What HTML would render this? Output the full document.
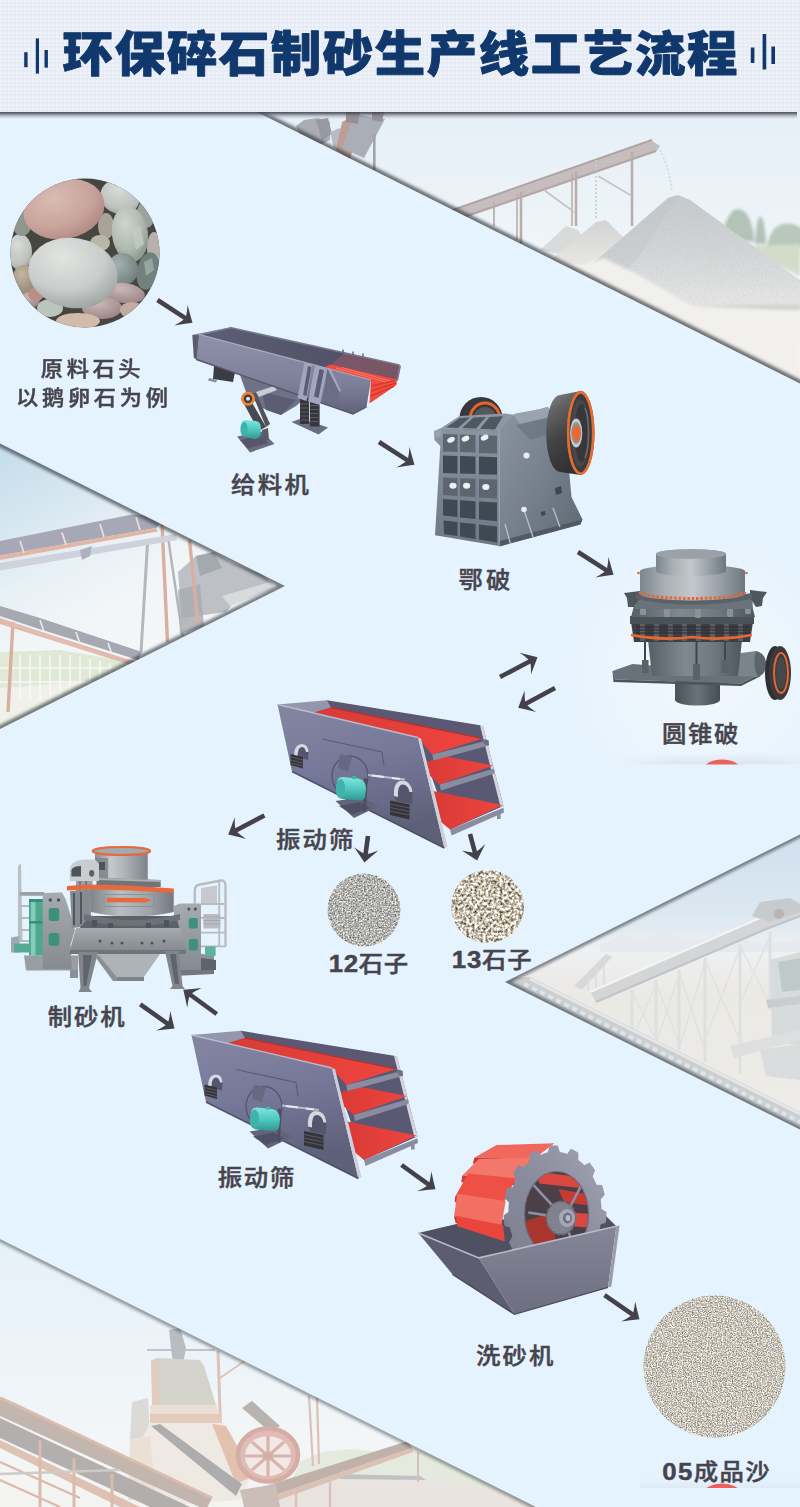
<!DOCTYPE html>
<html lang="zh-CN">
<head>
<meta charset="utf-8">
<title>环保碎石制砂生产线工艺流程</title>
<style>
html,body{margin:0;padding:0;}
body{width:800px;height:1507px;overflow:hidden;background:#e5f3fe;position:relative;font-family:"Liberation Sans","Noto Sans CJK SC",sans-serif;}
#stage{position:absolute;left:0;top:0;width:800px;height:1507px;display:block;}
.lbl{font-family:"Liberation Sans","Noto Sans CJK SC",sans-serif;font-weight:500;font-size:24px;fill:#46444d;letter-spacing:0.6px;stroke:#46444d;stroke-width:0.45px;}
.ttl{font-family:"Liberation Sans","Noto Sans CJK SC",sans-serif;font-weight:900;font-size:48px;fill:#11386c;letter-spacing:3.7px;}
</style>
</head>
<body>
<svg id="stage" width="800" height="1507" viewBox="0 0 800 1507">
<defs>
  <linearGradient id="hdrShadow" x1="0" y1="0" x2="0" y2="1">
    <stop offset="0" stop-color="#30323a" stop-opacity="0.95"/>
    <stop offset="0.3" stop-color="#4c4f5a" stop-opacity="0.8"/>
    <stop offset="0.65" stop-color="#767c8c" stop-opacity="0.38"/>
    <stop offset="1" stop-color="#8a90a0" stop-opacity="0"/>
  </linearGradient>
  <pattern id="hdrTex" width="4" height="4" patternUnits="userSpaceOnUse">
    <rect width="4" height="4" fill="#e9eef6"/>
    <rect x="0" y="0" width="2" height="2" fill="#eff3f9"/>
    <rect x="2" y="2" width="2" height="2" fill="#e4eaf3"/>
  </pattern>
  <clipPath id="clipT1"><polygon points="255,111 800,111 800,383.500"/></clipPath>
  <clipPath id="clipT2"><polygon points="0,443.500 285,586 0,729"/></clipPath>
  <clipPath id="clipT3"><polygon points="800,834.500 505,982 800,1129.500"/></clipPath>
  <clipPath id="clipT4"><polygon points="0,1239 536,1507 0,1507"/></clipPath>
  <filter id="blur3" x="-20%" y="-20%" width="140%" height="140%"><feGaussianBlur stdDeviation="3"/></filter>
  <filter id="blur2" x="-20%" y="-20%" width="140%" height="140%"><feGaussianBlur stdDeviation="1.6"/></filter>
  <filter id="blur1" x="-20%" y="-20%" width="140%" height="140%"><feGaussianBlur stdDeviation="0.7"/></filter>

  <linearGradient id="sky1" x1="0" y1="0" x2="0" y2="1">
    <stop offset="0" stop-color="#e4eff7"/><stop offset="0.45" stop-color="#eef4f8"/><stop offset="1" stop-color="#f6f6f5"/>
  </linearGradient>
  <linearGradient id="pileG" x1="0" y1="0" x2="0" y2="1">
    <stop offset="0" stop-color="#c6cbcf"/><stop offset="0.5" stop-color="#d5d8d9"/><stop offset="1" stop-color="#ebebe9"/>
  </linearGradient>
  <linearGradient id="pileG2" x1="0" y1="0" x2="0" y2="1">
    <stop offset="0" stop-color="#d2d4d4"/><stop offset="1" stop-color="#ebe9e4"/>
  </linearGradient>
  <filter id="grain" x="0" y="0" width="100%" height="100%">
    <feTurbulence type="fractalNoise" baseFrequency="0.9" numOctaves="2" seed="3" result="n"/>
    <feColorMatrix in="n" type="matrix" values="0 0 0 0 0.45  0 0 0 0 0.47  0 0 0 0 0.48  0.9 0.9 0 0 -0.72"/>
    <feComposite in2="SourceGraphic" operator="in"/>
  </filter>
</defs>
<rect x="0" y="0" width="800" height="1507" fill="#e5f3fe"/>
<g id="tri1" clip-path="url(#clipT1)">
  <rect x="250" y="100" width="560" height="290" fill="url(#sky1)"/>
  <!-- trees / grass -->
  <g filter="url(#blur2)">
    <path d="M722 240 q2 -22 12 -30 q10 -4 16 10 q4 10 4 22 z" fill="#b3c3b8"/>
    <path d="M755 244 q1 -24 5 -28 q5 2 6 28 z" fill="#b3c3b8"/>
    <path d="M767 246 q4 -20 16 -22 q12 -2 20 6 v18 z" fill="#b8c8bb"/>
    <path d="M750 246 L800 244 L800 276 L772 262 z" fill="#d3dccb"/>
  </g>
  <!-- top-left machinery -->
  <g filter="url(#blur1)" opacity="0.900">
    <path d="M296 126 L304 120 L318 118 L330 122 L330 140 L318 146 L300 136 z" fill="#a3a6ac"/>
    <path d="M316 120 L328 118 L332 134 L322 140 z" fill="#8d9097"/>
    <path d="M330 132 L340 128 L344 150 L334 148 z" fill="#b3b6bb"/>
    <path d="M336 150 L342 122 L354 116 L356 136 L350 160 z" fill="#b9958b"/>
    <path d="M354 114 L385 119 L364 158 L342 148 z" fill="#a3a8b0"/>
    <path d="M346 112 L360 112 L358 124 L346 122 z M372 112 L384 112 L382 122 L372 120 z" fill="#8f8488"/>
    <rect x="373" y="134" width="2.600" height="36" fill="#9b9aa0"/>
  </g>
  <!-- conveyor -->
  <g filter="url(#blur1)">
    <path d="M440 215.5 L652 141 L660 146 L656 152 L440 226.5 z" fill="#c6bdbd"/>
    <path d="M440 214.5 L652 140" stroke="#b0a2a2" stroke-width="2.2" fill="none"/>
    <path d="M440 225 L656 151" stroke="#b5a5a5" stroke-width="2" fill="none"/>
    <g stroke="#bbadad" stroke-width="2.6" fill="none">
      <path d="M632 152 V226"/><path d="M576 172 V226"/><path d="M572 174 V226" stroke-width="1.6"/>
      <path d="M521 192 V244"/><path d="M517 194 V240" stroke-width="1.6"/><path d="M494 202 V226" stroke-width="1.8"/>
    </g>
    <g stroke="#cbc1c1" stroke-width="1.6" fill="none">
      <path d="M598 176 L632 196"/><path d="M544 190 L574 212"/><path d="M596 160 V218" stroke="#c3cfd0" stroke-dasharray="2 2"/>
      <path d="M660 150 q10 20 12 42" stroke="#cfdadb" stroke-dasharray="2 2"/>
    </g>
  </g>
  <!-- piles -->
  <g filter="url(#blur1)">
    <path d="M540 250 L566 226 L578 230 L600 262 z" fill="#d9dbda"/>
    <path d="M548 262 L596 222 L606 220 L626 240 L640 270 z" fill="url(#pileG2)"/>
    <path d="M560 292 L668 198 L678 195 L690 200 L800 280 L800 312 L590 312 z" fill="url(#pileG)"/>
    <path d="M574 280 L668 198 L678 195 L644 250 L610 290 z" fill="#c0c5c8" opacity="0.400"/>
  </g>
  <path d="M560 292 L668 198 L678 195 L690 200 L800 280 L800 312 L590 312 z" fill="#808488" filter="url(#grain)" opacity="0.5"/>
  <g filter="url(#blur2)">
    <path d="M694 306 L800 304 L800 310 L702 311 z" fill="#d2d3d2"/>
    <path d="M540 258 L580 266 L604 258 L644 278 L692 306 L800 311 L800 400 L540 262 z" fill="#f1f0ed"/>
  </g>
  <!-- edge shadow -->
  <path d="M251 109 L803 385" stroke="#2a3038" stroke-width="7" opacity="0.650" filter="url(#blur2)" fill="none"/>
</g>
<g id="tri2" clip-path="url(#clipT2)">
  <defs>
    <linearGradient id="sky2" x1="0" y1="0" x2="0.550" y2="1">
      <stop offset="0" stop-color="#bcd7e7"/><stop offset="0.22" stop-color="#cfe3ee"/><stop offset="0.42" stop-color="#e6f0f5"/><stop offset="0.600" stop-color="#f1f5f8"/><stop offset="1" stop-color="#f3f6f7"/>
    </linearGradient>
  </defs>
  <rect x="0" y="440" width="290" height="300" fill="url(#sky2)"/>
  <g filter="url(#blur1)">
    <!-- green / fence area -->
    <path d="M0 652 L60 650 L130 662 L124 700 L0 706 z" fill="#dbe6d0"/>
    <path d="M0 688 L110 680 L110 700 L0 740 z" fill="#edefe8"/>
    <g stroke="#f7f8f5" stroke-width="1.600"><path d="M20 655V700M30 655V700M40 655V700M50 655V700M60 655V700M70 655V700M80 657V700M90 659V700M100 661V700M110 663V700"/><path d="M0 668H124M0 682H120"/></g>
    <!-- machine right -->
    <path d="M178 572 L196 556 L214 552 L230 562 L262 574 L272 584 L236 600 L226 612 L182 618 z" fill="#b4b9be"/>
    <path d="M196 556 L214 552 L222 568 L200 576 z" fill="#989ea6"/>
    <path d="M222 596 L270 582 L276 588 L230 606 z" fill="#d3d6da"/>
    <path d="M178 590 L200 584 L204 626 L180 634 z" fill="#9ba0a8" opacity="0.800"/>
    <!-- posts -->
    <g fill="none" stroke="#d4a593" stroke-width="3.400">
      <path d="M162 524 L167.500 642"/><path d="M189.500 540 L198 624"/><path d="M13 622 L8 712"/>
    </g>
    <path d="M147.500 544 L141 652" stroke="#aeacb4" stroke-width="3" fill="none"/>
    <path d="M168 537 L182.500 636" stroke="#a8abb3" stroke-width="2.400" fill="none"/>
    <!-- upper conveyor -->
    <path d="M0 541 L132 514.500 L154 516.500 L160 524 L156 528 L0 555.500 z" fill="#9a9cae"/>
    <path d="M0 555.500 L156 528 L158 531.500 L0 560 z" fill="#dfab98"/>
    <path d="M0 563 L176 534 L177 540 L0 570.500 z" fill="#c9ccd8"/>
    <path d="M20 541 L24 553 M62 532.500 L66 545 M100 524 L104 537 M136 517 L140 530" stroke="#ead9d2" stroke-width="1.800"/>
    <path d="M80 550 L92 546 L90 556 L82 560 z" fill="#a4a8b2"/>
    <!-- lower conveyor -->
    <path d="M0 606 L40 618 L142 652 L138 660 L36 628 L0 616 z" fill="#9a9ea8"/>
    <path d="M0 618 L36 630 L136 662 L134 666 L0 624 z" fill="#dcb0a0"/>
    <path d="M40 620 L44 632 M76 632 L80 644 M108 643 L112 654" stroke="#e6eaed" stroke-width="1.600"/>
    <path d="M12 624 L100 654" stroke="#dcb8ab" stroke-width="2" fill="none"/>
  </g>
  <rect x="0" y="440" width="290" height="300" fill="#ffffff" opacity="0.120"/>
  <!-- inner edge shadow -->
  <path d="M-6 440.500 L285 586 L-6 732" stroke="#252b33" stroke-width="7" opacity="0.600" filter="url(#blur2)" fill="none" stroke-linejoin="miter"/>
</g>
<g id="tri3" clip-path="url(#clipT3)">
  <defs>
    <linearGradient id="sky3" x1="0" y1="0" x2="0" y2="1">
      <stop offset="0" stop-color="#c9dcec"/><stop offset="0.28" stop-color="#d7e5f0"/><stop offset="0.40" stop-color="#eceff1"/><stop offset="0.55" stop-color="#e9e6e1"/><stop offset="1" stop-color="#ecebe8"/>
    </linearGradient>
  </defs>
  <rect x="500" y="830" width="300" height="300" fill="url(#sky3)"/>
  <g filter="url(#blur1)">
    <!-- mountains -->
    <path d="M600 946 L622 934 L640 940 L662 932 L690 940 L720 936 L760 944 L800 940 L800 952 L600 952 z" fill="#e3e8ec"/>
    <!-- far small conveyor -->
    <path d="M574 986 L606 954 L612 957 L582 990 z" fill="#d2d4d4"/>
    <path d="M596 966 V992 M604 960 V996 M588 974 V990" stroke="#d6d8d8" stroke-width="1.6"/>
    <!-- main conveyor truss -->
    <path d="M590 992 L760 918 L792 906 L800 906 L800 916 L764 930 L596 1002 z" fill="#cdd0d2"/>
    <path d="M590 992 L760 918 L792 906" stroke="#f2f3f3" stroke-width="2" fill="none"/>
    <path d="M596 1002 L764 930 L800 916" stroke="#b9bdc0" stroke-width="2.2" fill="none"/>
    <path d="M752 916 L760 902 L790 898 L800 904 L800 912 L770 922 z" fill="#bfc4c7"/>
    <circle cx="779" cy="914" r="5" fill="#b0a9a8"/>
    <!-- supports -->
    <g stroke="#d9dcdd" stroke-width="3" fill="none">
      <path d="M632 990 V1042"/><path d="M656 980 V1046"/><path d="M679 970 V1050"/><path d="M705 958 V1062"/><path d="M740 944 V1074"/><path d="M770 932 V1010"/>
    </g>
    <g stroke="#dcdedf" stroke-width="1.5" fill="none">
      <path d="M632 992 L656 1040 M656 984 L632 1040 M656 982 L679 1044 M679 974 L656 1044 M679 972 L705 1050 M705 962 L679 1050 M705 960 L740 1040 M740 948 L705 1040 M740 946 L770 1004 M770 936 L740 1004"/>
    </g>
    <!-- right machine -->
    <path d="M770 960 L800 952 L800 1046 L772 1040 z" fill="#d3d7d8"/>
    <path d="M778 962 L800 958 L800 990 L782 992 z" fill="#b7c2c2"/>
    <path d="M766 1000 L800 996 L800 1004 L768 1008 z" fill="#c2c6c8"/>
    <path d="M730 1046 L800 1030 L800 1040 L734 1058 z" fill="#d9dbdc"/>
    <path d="M760 1050 L800 1044 L800 1080 L766 1076 z" fill="#d5d8d9"/>
    <!-- lower conveyor -->
    <path d="M506 978 L530 977 L800 1112 L800 1140 L500 990 z" fill="#c6cacc"/>
    <path d="M530 979 L800 1114" stroke="#e4e6e7" stroke-width="2.400" fill="none"/>
    <path d="M524 984 L800 1122" stroke="#dfe2e3" stroke-width="4" stroke-dasharray="5 4" fill="none"/>
    <path d="M518 990 L800 1131" stroke="#b3b8bb" stroke-width="2" fill="none"/>
  </g>
  <rect x="500" y="830" width="300" height="300" fill="#ffffff" opacity="0.12"/>
  <path d="M806 831.500 L505 982 L806 1132.500" stroke="#252b33" stroke-width="6" opacity="0.55" filter="url(#blur2)" fill="none"/>
</g>
<g id="tri4" clip-path="url(#clipT4)">
  <defs>
    <linearGradient id="sky4" x1="0" y1="0" x2="0" y2="1">
      <stop offset="0" stop-color="#dfedf6"/><stop offset="0.450" stop-color="#e9f2f8"/><stop offset="0.800" stop-color="#f1f4f5"/><stop offset="1" stop-color="#f2f1ee"/>
    </linearGradient>
  </defs>
  <rect x="0" y="1230" width="540" height="280" fill="url(#sky4)"/>
  <g filter="url(#blur1)" opacity="0.860">
    <!-- hills / ground -->
    <path d="M300 1462 L322 1452 L350 1449 L380 1452 L410 1447 L470 1470 L540 1507 L280 1507 z" fill="#dde4d2"/>
    <path d="M250 1492 L330 1480 L420 1474 L540 1500 L540 1510 L250 1510 z" fill="#e2ddd5"/>
    <path d="M338 1474 L420 1476 L426 1480 L340 1479 z" fill="#a9abad"/>
    <!-- poles -->
    <path d="M218 1351 L221 1440" stroke="#d3aca0" stroke-width="3" fill="none"/>
    <path d="M220 1378 L246 1360" stroke="#d3aca0" stroke-width="2" fill="none"/>
    <path d="M309 1396 L313 1466 M317 1397 L319 1464" stroke="#d2a99e" stroke-width="2.200" fill="none"/>
    <path d="M418 1452 v30" stroke="#c9a79d" stroke-width="2"/>
    <!-- grab -->
    <path d="M147 1350 H215" stroke="#a9aeb2" stroke-width="2.200"/>
    <path d="M169 1330 L180 1328 L186 1348 L183 1364 L173 1364 L171 1348 z" fill="#a0a5a9"/>
    <!-- hopper -->
    <path d="M151 1361 L157 1358 L200 1360 L204 1366 L216 1405 L153 1405 z" fill="#c9c5ba"/>
    <path d="M151 1361 L157 1358 L160 1405 L152 1405 z" fill="#dcbca8"/>
    <path d="M132 1402 L148 1398 L150 1436 L130 1440 z" fill="#cfccc6"/>
    <path d="M150 1405 L216 1405 L222 1423 L150 1423 z" fill="#e3d3c4"/>
    <path d="M150 1414 L220 1414 L222 1423 L150 1423 z" fill="#dcb79f"/>
    <path d="M150 1423 L223 1423 L250 1478 L240 1500 L150 1507 L130 1462 z" fill="#ebe3d9"/>
    <path d="M212 1424 L226 1426 L254 1476 L236 1484 z" fill="#d9ab90"/>
    <path d="M151 1426 L160 1424 L242 1484 L236 1496 z" fill="#8f8c8d"/>
    <path d="M130 1440 L150 1436 L156 1500 L128 1500 z" fill="#e6d6c8"/>
    <!-- small conveyor -->
    <path d="M242 1408 L252 1401 L280 1426 L270 1432 z" fill="#9c9692"/>
    <!-- wheel -->
    <ellipse cx="268" cy="1455" rx="31" ry="27.500" fill="#d5a29a"/>
    <ellipse cx="268" cy="1456" rx="23" ry="20" fill="#f0e2de"/>
    <g stroke="#cc958c" stroke-width="3.200" fill="none"><path d="M245 1456H291M268 1436V1476M252 1442L284 1470M284 1442L252 1470"/></g>
    <ellipse cx="268" cy="1455" rx="30" ry="26.500" fill="none" stroke="#c98c82" stroke-width="4.500"/>
    <ellipse cx="268" cy="1456" rx="5" ry="4.500" fill="#c98c82"/>
    <!-- right conveyor -->
    <path d="M266 1486 L408 1441 L412 1448 L272 1496 z" fill="#a8928a"/>
    <path d="M272 1496 L412 1448 L413 1452 L276 1501 z" fill="#d0aa98"/>
    <path d="M330 1478 V1507 M296 1490 V1507" stroke="#d0ab9c" stroke-width="2.400"/>
    <path d="M240 1490 L276 1484 L280 1507 L244 1507 z" fill="#b9a59c"/>
    <!-- big left conveyor -->
    <path d="M0 1398 L14 1404 L212 1498 L206 1510 L0 1416 z" fill="#ad9990"/>
    <path d="M0 1398 L14 1404 L212 1498" stroke="#cfa391" stroke-width="3" fill="none"/>
    <path d="M0 1418 L190 1507 L150 1507 L0 1438 z" fill="#979090"/>
    <path d="M0 1440 L140 1507 L120 1507 L0 1448 z" fill="#d3aa97"/>
    <g stroke="#cea08c" stroke-width="3" fill="none"><path d="M40 1440 V1507 M112 1474 V1507 M74 1458 V1507"/><path d="M0 1462 L80 1498 M0 1480 L60 1507" stroke-width="2.400"/><path d="M0 1474 L120 1470" stroke="#bdb6b2" stroke-width="2.400"/></g>
  </g>
  <path d="M151 1361 L157 1358 L200 1360 L204 1366 L216 1405 L153 1405 z" fill="#80796c" filter="url(#grain)" opacity="0.350"/>
  <rect x="0" y="1230" width="540" height="280" fill="#ffffff" opacity="0.180"/>
  <path d="M-6 1236 L540 1509" stroke="#2a3038" stroke-width="6" opacity="0.450" filter="url(#blur2)" fill="none"/>
</g>
<!-- header -->
<rect x="0" y="111" width="797" height="8" fill="url(#hdrShadow)"/>
<rect x="0" y="0" width="800" height="112" fill="url(#hdrTex)"/>
<g fill="#11386c">
  <rect x="24.200" y="52.200" width="3.400" height="15"/>
  <rect x="35.800" y="38.400" width="3.200" height="35.200"/>
  <rect x="44.500" y="50" width="3.400" height="17.600"/>
  <rect x="750.8" y="47.5" width="3.6" height="15.5"/>
  <rect x="762.6" y="34" width="3.6" height="35.5"/>
  <rect x="771.4" y="46.5" width="3.6" height="17.5"/>
</g>
<text class="ttl" transform="translate(62.6,71.4) scale(1.05,1)" style="letter-spacing:1.56px" stroke="#11386c" stroke-width="0.9" stroke-linejoin="round">环保碎石制砂生产线工艺流程</text>
<!-- pebbles circle -->
<defs>
  <clipPath id="clipPeb"><circle cx="85" cy="253" r="74.5"/></clipPath>
  <radialGradient id="pgPink" cx="0.4" cy="0.3" r="0.8"><stop offset="0" stop-color="#d9bcb3"/><stop offset="0.6" stop-color="#c7a39b"/><stop offset="1" stop-color="#a6827b"/></radialGradient>
  <radialGradient id="pgGray" cx="0.35" cy="0.3" r="0.85"><stop offset="0" stop-color="#e2e4e1"/><stop offset="0.55" stop-color="#c9cdcb"/><stop offset="1" stop-color="#8f9694"/></radialGradient>
  <radialGradient id="pgGray2" cx="0.4" cy="0.3" r="0.8"><stop offset="0" stop-color="#d9dcd8"/><stop offset="0.7" stop-color="#bcc1bd"/><stop offset="1" stop-color="#8c918e"/></radialGradient>
  <radialGradient id="pgGreen" cx="0.4" cy="0.3" r="0.8"><stop offset="0" stop-color="#cfd6cb"/><stop offset="0.6" stop-color="#aeb9ad"/><stop offset="1" stop-color="#7f8a80"/></radialGradient>
  <radialGradient id="pgBlue" cx="0.4" cy="0.3" r="0.8"><stop offset="0" stop-color="#a3b1af"/><stop offset="1" stop-color="#6c7b79"/></radialGradient>
  <radialGradient id="pgBrown" cx="0.4" cy="0.3" r="0.8"><stop offset="0" stop-color="#c3b6a2"/><stop offset="1" stop-color="#8d806c"/></radialGradient>
  <radialGradient id="pgMauve" cx="0.4" cy="0.3" r="0.8"><stop offset="0" stop-color="#cbb9b9"/><stop offset="1" stop-color="#96807f"/></radialGradient>
</defs>
<g clip-path="url(#clipPeb)">
  <rect x="10" y="178" width="150" height="150" fill="#46453f"/>
  <g filter="url(#blur1)">
    <!-- left small pebbles -->
    <ellipse cx="20" cy="252" rx="12" ry="18" fill="url(#pgGray2)"/>
    <ellipse cx="24" cy="280" rx="12" ry="15" fill="url(#pgBrown)"/>
    <ellipse cx="30" cy="300" rx="10" ry="8" fill="url(#pgMauve)"/>
    <ellipse cx="22" cy="222" rx="10" ry="14" fill="#8f968f"/>
    <!-- top right -->
    <ellipse cx="120" cy="197" rx="20" ry="17" fill="url(#pgGray2)" transform="rotate(20 120 197)"/>
    <ellipse cx="146" cy="214" rx="9" ry="14" fill="#9aa39c"/>
    <ellipse cx="106" cy="226" rx="8" ry="13" fill="#a9a49a"/>
    <!-- green right -->
    <ellipse cx="130" cy="234" rx="18" ry="28" fill="url(#pgGreen)" transform="rotate(-8 130 234)"/>
    <path d="M132 230 L140 226 L144 244 L136 250 z" fill="#c3ccc0" opacity="0.8"/>
    <ellipse cx="154" cy="248" rx="7" ry="16" fill="#b7b0ac"/>
    <!-- small between -->
    <ellipse cx="100" cy="243" rx="10" ry="8" fill="#b9b7a6"/>
    <!-- dark blue-gray -->
    <ellipse cx="123" cy="269" rx="15" ry="16" fill="url(#pgBlue)" transform="rotate(-20 123 269)"/>
    <ellipse cx="148" cy="271" rx="11" ry="19" fill="#71827e" transform="rotate(12 148 271)"/>
    <path d="M144 262 L152 258 L154 270 L146 276 z" fill="#95a5a0"/>
    <!-- bottom row -->
    <ellipse cx="124" cy="293" rx="21" ry="10" fill="url(#pgMauve)" transform="rotate(8 124 293)"/>
    <ellipse cx="102" cy="308" rx="20" ry="11" fill="url(#pgMauve)"/>
    <ellipse cx="132" cy="310" rx="12" ry="8" fill="#c2aca2"/>
    <ellipse cx="50" cy="308" rx="13" ry="9" fill="#bac6bc"/>
    <ellipse cx="78" cy="321" rx="22" ry="8" fill="#d3bbab"/>
    <ellipse cx="36" cy="294" rx="8" ry="7" fill="#b98f84"/>
    <!-- big pink -->
    <ellipse cx="64" cy="209" rx="41" ry="30" fill="url(#pgPink)" transform="rotate(-12 64 209)"/>
    <!-- big gray -->
    <ellipse cx="73" cy="273" rx="45" ry="35" fill="url(#pgGray)" transform="rotate(10 73 273)"/>
  </g>
</g>
<!-- subtle pasted-image halo around cone crusher + cropped red arcs -->
<defs>
  <radialGradient id="haloG" cx="0.5" cy="0.55" r="0.55"><stop offset="0" stop-color="#f4f9fd" stop-opacity="0.850"/><stop offset="0.600" stop-color="#eef6fc" stop-opacity="0.600"/><stop offset="1" stop-color="#e5f3fe" stop-opacity="0"/></radialGradient>
  <linearGradient id="haloBot" x1="0" y1="0" x2="0" y2="1"><stop offset="0" stop-color="#dfe6ee" stop-opacity="0"/><stop offset="1" stop-color="#d3dbe5" stop-opacity="0.700"/></linearGradient>
  <linearGradient id="haloBotH" x1="0" y1="0" x2="1" y2="0"><stop offset="0" stop-color="#fff" stop-opacity="0"/><stop offset="0.300" stop-color="#fff" stop-opacity="1"/><stop offset="0.800" stop-color="#fff" stop-opacity="1"/><stop offset="1" stop-color="#fff" stop-opacity="0.300"/></linearGradient>
  <mask id="haloMask"><rect x="620" y="740" width="180" height="30" fill="url(#haloBotH)"/></mask>
  <clipPath id="haloClip"><rect x="540" y="500" width="260" height="264.500"/></clipPath>
  <clipPath id="arcClip1"><rect x="690" y="750" width="70" height="14.500"/></clipPath>
  <clipPath id="arcClip2"><rect x="690" y="1476" width="70" height="12"/></clipPath>
</defs>
<g clip-path="url(#haloClip)">
  <ellipse cx="705" cy="660" rx="150" ry="150" fill="url(#haloG)"/>
  <rect x="620" y="752" width="180" height="12.500" fill="url(#haloBot)" mask="url(#haloMask)"/>
</g>
<ellipse cx="722" cy="769" rx="18" ry="9.500" fill="#ef5f59" clip-path="url(#arcClip1)"/>
<g>
  <rect x="640" y="1478" width="160" height="10" fill="url(#haloBot)" opacity="0.600"/>
  <ellipse cx="722" cy="1492.500" rx="18" ry="9" fill="#ef5f59" clip-path="url(#arcClip2)"/>
</g>
<!-- feeder -->
<defs>
  <linearGradient id="fdFront" x1="0" y1="0" x2="0" y2="1"><stop offset="0" stop-color="#8f91ab"/><stop offset="0.6" stop-color="#7f819b"/><stop offset="1" stop-color="#62637a"/></linearGradient>
  <linearGradient id="fdIn" x1="0" y1="0" x2="1" y2="0"><stop offset="0" stop-color="#5d5e75"/><stop offset="1" stop-color="#4c4c62"/></linearGradient>
  <linearGradient id="tealG" x1="0" y1="0" x2="0" y2="1"><stop offset="0" stop-color="#7fe6dd"/><stop offset="0.5" stop-color="#4fc9c1"/><stop offset="1" stop-color="#2f9791"/></linearGradient>
</defs>
<g id="feeder">
  <!-- left leg -->
  <path d="M214 366 L235 372 L233 382 L213 379 z" fill="#3b3b42"/>
  <path d="M209 378 L217 380 L216 382.5 L208 380.5 z" fill="#8a8ca0"/>
  <!-- under hopper -->
  <path d="M240 375 L300 392 L305 398 L296 406 L281 415 L262 408 L246 392 z" fill="#6f7186"/>
  <path d="M262 392 L296 400 L281 415 L266 410 z" fill="#5b5d72"/>
  <path d="M256 392 L274 386 L277 390 L259 397 z" fill="#c9cbd6"/>
  <!-- springs + base right -->
  <path d="M291.5 422 L301 418.5 L328 427.5 L318.5 434.5 z" fill="#6a6c82"/>
  <rect x="300" y="398" width="9.2" height="26" fill="#37373b"/>
  <rect x="310" y="399.5" width="9.6" height="27" fill="#37373b"/>
  <g stroke="#5d5d64" stroke-width="0.9"><path d="M300 404h9.2M300 408h9.2M300 412h9.2M300 416h9.2M300 420h9.2M310 405.500h9.6M310 409.500h9.6M310 413.500h9.6M310 417.500h9.600M310 421.500h9.600"/></g>
  <!-- trough inside -->
  <path d="M199.300 334.500 L230 327.500 L399.500 365 L397 380 L371 380 z" fill="url(#fdIn)"/>
  <path d="M330.500 365 L397 379.600 L399.500 365 L345 352.800 z" fill="#8a5a66" opacity="0.700"/>
  <!-- red grate -->
  <path d="M326 366.500 L330 364.500 L397 379.600 L396.500 385 L369.500 403.500 L371 380 L326 369 z" fill="#f44b3f"/>
  <g stroke="#c8362e" stroke-width="1.100" fill="none"><path d="M371 386 L395 380.500M371 391 L396 383M370.500 396 L394 386.500"/></g>
  <g stroke="#ff7a6a" stroke-width="0.900" fill="none"><path d="M336 368 L386 382M342 367.500 L390 381"/></g>
  <!-- back wall top rim & right end -->
  <path d="M230 327.500 L399.500 365" stroke="#77798f" stroke-width="1.600" fill="none"/>
  <path d="M399.500 365 L401 366 L398 381 L396.800 380 z" fill="#77798f"/>
  <path d="M343 349.500v3M353 351.500v3M363 353.500v3" stroke="#4a4a55" stroke-width="1.200"/>
  <!-- end wall left -->
  <path d="M192.300 335 L199.300 334.300 L197 360.500 L193.800 357.500 z" fill="#5b5c72"/>
  <path d="M192.300 335 L230 327.300 L231 328.600 L199.300 335.500 z" fill="#7d7f98"/>
  <!-- front wall -->
  <path d="M199.300 334.500 L371 380 L366.500 407 L353 414 L196.500 359.500 z" fill="url(#fdFront)"/>
  <path d="M199.300 334.500 L371 380" stroke="#a9abc3" stroke-width="1.200" fill="none"/>
  <path d="M196.500 359.500 L353 414 L366.500 407" stroke="#55566b" stroke-width="1.400" fill="none"/>
  <!-- ribs -->
  <path d="M304.500 362.500 L312.500 364.600 L306.500 401 L297.500 398 z" fill="#a3a5be"/>
  <path d="M308 366 L311.500 367 L306.500 396 L303 395 z" fill="#5d5e75"/>
  <path d="M315 365.200 L327.500 368.500 L320 405 L308 401.500 z" fill="#a3a5be"/>
  <path d="M319.500 369 L324 370.200 L318.500 398 L314 396.500 z" fill="#5d5e75"/>
  <path d="M327.500 368.500 L339.500 392 L338 404.500 L322.500 402 z" fill="#6b6d85"/>
  <path d="M327.500 368.500 L331 369.500 L341 391 L339.500 392 z" fill="#a3a5be"/>
  <!-- pulley, belt, motor -->
  <path d="M243.500 403 L252.500 403.500 L266 427 L258.500 431 z" fill="#4b4950"/>
  <path d="M252 393 L256 393 L270 424 L266 427 z" fill="#55535a"/>
  <circle cx="248" cy="398.800" r="7" fill="#e98438"/>
  <circle cx="248" cy="398.800" r="4.200" fill="#3c3a40"/>
  <circle cx="248" cy="398.800" r="2" fill="#e6e8ee"/>
  <path d="M237 436.500 L262 431.500 L274.500 444 L250 452.500 z" fill="#6b6c81"/>
  <path d="M240 440 L261 435.500 L268 443 L248 448.500 z" fill="#55566a"/>
  <path d="M242 423 Q242 420 246 420 L256 421 Q261 422 261 428 L260 436 Q259 439 254 439 L245 437 Q241 436 241 431 z" fill="url(#tealG)"/>
  <ellipse cx="244" cy="429" rx="3.600" ry="7" fill="#3eb3ac"/>
  <path d="M262 430 L268 428 L269 440 L263 441 z" fill="#5a5a66"/>
</g>
<!-- jaw crusher -->
<defs>
  <linearGradient id="jwSide" x1="0" y1="0" x2="1" y2="1"><stop offset="0" stop-color="#8a95a1"/><stop offset="0.5" stop-color="#76818d"/><stop offset="1" stop-color="#5d6772"/></linearGradient>
  <linearGradient id="jwFront" x1="0" y1="0" x2="0" y2="1"><stop offset="0" stop-color="#8994a1"/><stop offset="1" stop-color="#6d7884"/></linearGradient>
  <linearGradient id="jwTread" x1="0" y1="0" x2="1" y2="0"><stop offset="0" stop-color="#2f2f33"/><stop offset="0.5" stop-color="#47474c"/><stop offset="1" stop-color="#38383c"/></linearGradient>
  <linearGradient id="jwTreadV" x1="0" y1="0" x2="0.300" y2="1"><stop offset="0" stop-color="#8c8c8f"/><stop offset="0.280" stop-color="#626265"/><stop offset="0.600" stop-color="#444447"/><stop offset="1" stop-color="#333336"/></linearGradient>
</defs>
<g id="jaw">
  <!-- back flywheel -->
  <ellipse cx="481" cy="418" rx="21.500" ry="21" fill="#38383c"/>
  <ellipse cx="485" cy="419" rx="15" ry="16" fill="none" stroke="#e8632b" stroke-width="3"/>
  <ellipse cx="485" cy="420" rx="12" ry="13" fill="#55575c"/>
  <!-- side body -->
  <path d="M499.200 430.600 L503.800 422.800 L515 413.800 L539.800 409.200 L548 407 L556 420 L569 470 L571.500 497 L582.500 519.500 L580.200 524.500 L499.200 546.500 z" fill="url(#jwSide)"/>
  <path d="M513 415 L540 409 L548 407 L553 416 L520 424 z" fill="#9aa4af"/>
  <path d="M516 425 L552 417 L556 432 L530 440 z" fill="#6a7480" opacity="0.7"/>
  <path d="M499.200 546.500 L580.200 524.500 L582.500 519.500 L499.200 541 z" fill="#515a64"/>
  <g stroke="#b8c0c8" stroke-width="1.300" fill="none"><path d="M524 510 L533 537M553 508 L560 527M505 524 L510.500 544"/></g>
  <path d="M555 488 l6 -2 l1 7 l-6 2 z M541 512 l4 -1 l0.500 4 l-4 1 z" fill="#3e464f"/>
  <circle cx="526.500" cy="455.500" r="3" fill="#e9edf0"/><circle cx="524" cy="509.500" r="2.800" fill="#e9edf0"/>
  <!-- hopper top -->
  <path d="M440.500 428.600 L459.500 416 L505 413.600 L514 414.800 L499.200 430.600 z" fill="#8d98a4"/>
  <path d="M446 427.500 L460 418 L470 417.600 L458 428 z M462 428 L473.500 417.500 L486 417 L476 428.500 z M480 428.800 L489.500 417 L503 416.300 L495 429.400 z" fill="#4e5863"/>
  <!-- front face -->
  <path d="M434 431.300 L440.800 428.300 L499.200 430.600 L499.200 546 L435 535.300 L440.300 446 L434.500 440 z" fill="url(#jwFront)"/>
  <path d="M434 431.300 L440.800 428.300 L441.500 436 L436 438 z" fill="#98a3ae"/>
  <g fill="#3f4954">
    <path d="M443 455.500 L457.500 456 L457.500 473.500 L443 473 z M460 456 L475.500 456.500 L475.500 474 L460 473.600 z M479 456.600 L497 457.200 L497 474.800 L479 474.200 z"/>
    <path d="M443 499 L457.500 500 L457.500 517 L443 515.500 z M460 500.200 L475.500 501.200 L475.500 519 L460 517.400 z M479 501.400 L497 502.600 L497 521.200 L479 519.400 z"/>
    <path d="M443.500 520.500 L457.500 522 L457.500 536 L444 534 z M460 522.400 L475.500 524 L475.500 539 L460 536.600 z M479 524.400 L497 526.400 L497 542.400 L479 539.600 z"/>
  </g>
  <g fill="#5b6671">
    <path d="M443 434 L457.500 434.500 L457.500 452 L443 451.500 z M460 434.600 L475.500 435 L475.500 452.500 L460 452 z M479 435.200 L497 435.800 L497 453.500 L479 453 z"/>
    <path d="M443 477.500 L457.500 478 L457.500 496 L443 495 z M460 478.200 L475.500 478.800 L475.500 497 L460 496.200 z M479 479 L497 479.600 L497 498.500 L479 497.400 z"/>
  </g>
  <g fill="#eef1f3"><ellipse cx="451" cy="439.800" rx="4" ry="2.600" transform="rotate(-25 451 439.800)"/><ellipse cx="465.500" cy="438.600" rx="4" ry="2.600" transform="rotate(-25 465.500 438.600)"/><ellipse cx="484.600" cy="437.600" rx="4" ry="2.600" transform="rotate(-25 484.600 437.600)"/>
  <ellipse cx="453" cy="485.800" rx="3.600" ry="3"/><ellipse cx="466.600" cy="485.800" rx="3.600" ry="3"/><ellipse cx="485.800" cy="487" rx="3.600" ry="3"/></g>
  <path d="M499.200 430.600 V546" stroke="#98a3ae" stroke-width="1.200"/>
  <!-- front flywheel -->
  <path d="M560 395 A13.750 38.500 0 0 0 560 472 L580.700 475 A13.750 42 0 0 1 580.700 391 z" fill="url(#jwTreadV)"/>
  <ellipse cx="580.700" cy="433" rx="13.750" ry="42" fill="#3b3b3e"/>
  <ellipse cx="580.700" cy="433" rx="12.500" ry="40.600" fill="none" stroke="#ea6a2c" stroke-width="2.600"/>
  <ellipse cx="580" cy="433" rx="9.500" ry="34" fill="#48484b"/>
  <ellipse cx="581.500" cy="433" rx="7" ry="29" fill="#37373a"/>
  <path d="M585 408 A7 29 0 0 1 585 458" stroke="#6a6a6e" stroke-width="1.600" fill="none"/>
  <ellipse cx="576.200" cy="433" rx="6.100" ry="14.400" fill="#c6cacf"/>
  <ellipse cx="576.200" cy="433" rx="5" ry="11" fill="#8d9298"/>
  <ellipse cx="576.500" cy="433.300" rx="4" ry="7.900" fill="#f0672a"/>
</g>
<!-- cone crusher -->
<defs>
  <linearGradient id="cnMetal" x1="0" y1="0" x2="1" y2="0"><stop offset="0" stop-color="#7d858c"/><stop offset="0.25" stop-color="#aab1b7"/><stop offset="0.5" stop-color="#c3c8cc"/><stop offset="0.75" stop-color="#9aa1a8"/><stop offset="1" stop-color="#6f777e"/></linearGradient>
  <linearGradient id="cnBody" x1="0" y1="0" x2="1" y2="0"><stop offset="0" stop-color="#565e66"/><stop offset="0.4" stop-color="#808890"/><stop offset="0.7" stop-color="#6f777f"/><stop offset="1" stop-color="#4e565e"/></linearGradient>
  <linearGradient id="cnDark" x1="0" y1="0" x2="1" y2="0"><stop offset="0" stop-color="#4a5158"/><stop offset="0.5" stop-color="#6a727a"/><stop offset="1" stop-color="#464d54"/></linearGradient>
  <radialGradient id="cnHalo" cx="0.5" cy="0.5" r="0.5"><stop offset="0" stop-color="#f2f8fd" stop-opacity="0.9"/><stop offset="0.7" stop-color="#eaf4fc" stop-opacity="0.6"/><stop offset="1" stop-color="#e3f1fc" stop-opacity="0"/></radialGradient>
</defs>
<g id="cone">
  <!-- bottom cylinder -->
  <path d="M675 680 L720 680 L720 700 A22.500 5.500 0 0 1 675 700 z" fill="url(#cnDark)"/>
  <!-- base plate -->
  <path d="M612.500 671 L632.500 664 L760 674 L741 683.500 L615 679.500 z" fill="#69717a"/>
  <path d="M612.500 671 L615 679.500 L741 683.500 L760 674 L760 676.500 L741 686 L613.500 682 z" fill="#4c535a"/>
  <!-- right shaft housing -->
  <path d="M734 654 L756 651 Q766 654 766 664 Q766 674 758 677 L736 676 z" fill="#7b838b"/>
  <path d="M756 651 Q766 654 766 664 Q766 674 758 677 Q752 665 756 651 z" fill="#5c646c"/>
  <!-- lower body -->
  <path d="M648 640 L742 640 L738 676 L652 676 z" fill="url(#cnBody)"/>
  <g stroke="#3f454b" stroke-width="2" fill="none"><path d="M645 640 V668M696.500 640 V680M725 640 V670"/></g>
  <g fill="#59616a"><rect x="642" y="660" width="6.500" height="13"/><rect x="693" y="664" width="7" height="16"/><rect x="721.500" y="660" width="7" height="13"/></g>
  <!-- springs zone -->
  <path d="M631 622 L753 622 L750 642 L634 642 z" fill="#3d3f44"/>
  <g fill="#5b5e64"><rect x="640" y="624" width="5" height="17"/><rect x="654" y="624" width="5" height="17"/><rect x="668" y="624" width="5" height="17"/><rect x="682" y="624" width="5" height="17"/><rect x="696" y="624" width="5" height="17"/><rect x="710" y="624" width="5" height="17"/><rect x="724" y="624" width="5" height="17"/><rect x="738" y="624" width="5" height="17"/></g>
  <g stroke="#2c2d31" stroke-width="1" fill="none"><path d="M636 627h114M636 630h114M636 633h114"/></g>
  <path d="M631 635 Q662 641 692 637 Q722 641 752 635" stroke="#e8672f" stroke-width="2.600" fill="none"/>
  <!-- disc plate + upper frame -->
  <path d="M630 616 L754 616 L754 624 L630 624 z" fill="#4a5158"/>
  <path d="M634 606 L752 606 L755 617 L631 617 z" fill="url(#cnBody)"/>
  <g fill="#8a9299"><rect x="640" y="604" width="6" height="11" rx="1.500"/><rect x="664" y="606" width="6" height="11" rx="1.500"/><rect x="695" y="607" width="6" height="11" rx="1.500"/><rect x="727" y="606" width="6" height="11" rx="1.500"/><rect x="745" y="603" width="6" height="11" rx="1.500"/></g>
  <path d="M636 596 L752 596 L753 609 L635 609 z" fill="#6a727a"/>
  <!-- flange ring with brackets -->
  <path d="M624 593 L640 591 L640 598 L634 607 L628 607 L627 598 z" fill="#4f565d"/>
  <path d="M767 592 L750 590 L750 598 L756 607 L762 606 L763 598 z" fill="#4f565d"/>
  <path d="M636 593 Q692 604 752 593 L752 599 Q692 610 636 599 z" fill="#59616a"/>
  <!-- second cylinder -->
  <path d="M640 571 A52.500 6 0 0 1 745 571 L745 594 A52.500 6.500 0 0 1 640 594 z" fill="url(#cnMetal)"/>
  <path d="M640 592 A52.500 6.500 0 0 0 745 592" stroke="#e8672f" stroke-width="3" stroke-dasharray="2.600 1.800" fill="none"/>
  <circle cx="638.500" cy="573" r="1.300" fill="#e8672f"/><circle cx="746.500" cy="573" r="1.300" fill="#e8672f"/>
  <!-- top cylinder -->
  <path d="M656 554 A35 5 0 0 1 726 554 L726 571 A35 5 0 0 1 656 571 z" fill="url(#cnMetal)"/>
  <ellipse cx="691" cy="554" rx="35" ry="5" fill="#9aa2a9"/>
  <!-- pulley wheel -->
  <ellipse cx="775" cy="673" rx="10" ry="27" fill="#2f2f33"/>
  <ellipse cx="780" cy="673" rx="11" ry="27" fill="#3a3a3e"/>
  <ellipse cx="781" cy="673" rx="7" ry="20" fill="none" stroke="#e8672f" stroke-width="2"/>
  <ellipse cx="781" cy="673" rx="5" ry="16" fill="#47474c"/>
</g>
<!-- vibrating screen (defined once, used twice) -->
<defs>
  <linearGradient id="vsFront" x1="0" y1="0" x2="0.300" y2="1"><stop offset="0" stop-color="#8486a0"/><stop offset="0.5" stop-color="#76789a"/><stop offset="1" stop-color="#5e6079"/></linearGradient>
  <linearGradient id="vsRed" x1="0" y1="0" x2="1" y2="0"><stop offset="0" stop-color="#d93a36"/><stop offset="1" stop-color="#f0453e"/></linearGradient>
  <g id="vscreen">
    <!-- back wall -->
    <path d="M327 700.300 L480 725.300 L483 726.500 L503.500 806 L450 829.400 L418 737.500 L314 712.500 z" fill="#5b5873"/>
    <path d="M480 725.300 L483 726.500 L503.500 806 L500.500 807 z" fill="#d3d5df"/>
    <!-- feed end plate -->
    <path d="M277.500 704.500 L327 700.300 L331 707.500 L314 712.800 z" fill="#9496ae"/>
    <!-- bottom deck -->
    <path d="M433 790 L434.400 791.300 L502.500 805 L450 829.400 L441 822 z" fill="url(#vsRed)"/>
    <path d="M450 829.400 L503.400 807.800 L504 812.500 L451.500 835.500 z" fill="#8a8ca2"/>
    <path d="M497 812 h3.600 v7 h-3.600 z" fill="#8a8ca2"/>
    <!-- mid deck -->
    <path d="M426 762 L447 756.400 L493.100 765.600 L439.700 784.400 L430 776 z" fill="url(#vsRed)"/>
    <path d="M439.700 784.400 L494 768.400 L494.600 773.500 L441 790.500 z" fill="#8a8ca2"/>
    <!-- top deck -->
    <path d="M314 712.500 L331 707.500 L482 738.400 L432.200 754.400 L420 740 z" fill="url(#vsRed)"/>
    <path d="M331 707.500 L482 738.400" stroke="#b4322f" stroke-width="1.400" fill="none"/>
    <path d="M432.200 754.400 L488.400 740.300 L489 745.500 L433.500 760.500 z" fill="#8a8ca2"/>
    <path d="M482 738.400 L488.400 740.300 L489 745.500 L484 744 z" fill="#6e7088"/>
    <!-- front wall -->
    <path d="M277.500 704.500 L418 737.500 L444.400 848 L292 771.500 z" fill="url(#vsFront)"/>
    <path d="M277.500 704.500 L418 737.500" stroke="#b9bbcd" stroke-width="1.300" fill="none"/>
    <path d="M418 737.500 L421 738.500 L447.500 846.500 L444.400 848 z" fill="#cdd0dc"/>
    <path d="M292 771.500 L444.400 848" stroke="#4f5068" stroke-width="1.600" fill="none"/>
    <!-- exciter outline -->
    <path d="M322 739 L382 752 L384 766" stroke="#5b5c76" stroke-width="1.200" fill="none"/>
    <ellipse cx="350" cy="776" rx="18" ry="20" fill="none" stroke="#55566e" stroke-width="1.400"/>
    <path d="M340 754 L352 757 L348 772 L338 768 z" fill="#676983"/>
    <path d="M368 775 L405 779.500" stroke="#b9bccb" stroke-width="2.200" fill="none"/><path d="M372 775.500 L384 777 M392 778 L400 779" stroke="#e6e8ef" stroke-width="2.200" fill="none"/>
    <!-- left spring -->
    <path d="M294 756 Q294 744 302 744 Q308 744 308.500 752 L308 760 L297 757 z" fill="#55566e"/><path d="M294 756 Q294 744 302 744 Q308 744 308.500 752 L306 752 Q305 747 301.500 747 Q297.500 748 297.500 757 z" fill="#d5d7e1"/>
    <path d="M290.500 754 L303 757 L303 768.500 L290.500 765 z" fill="#34343a"/>
    <g stroke="#6b6b74" stroke-width="0.700"><path d="M290.500 757 L303 760M290.500 760 L303 763M290.500 763 L303 766"/></g>
    <!-- right spring -->
    <path d="M394 796 Q393 781 402 780.500 Q411 780.500 412.500 792 L412 804 L396 801 z" fill="#55566e"/><path d="M394 796 Q393 781 402 780.500 Q411 780.500 412.500 792 L409.500 792 Q408 784 402 784.500 Q397.500 785 398 797 z" fill="#d5d7e1"/>
    <path d="M390 800.500 L409.500 804.500 L409.500 819.500 L390 815 z" fill="#34343a"/>
    <g stroke="#6b6b74" stroke-width="0.700"><path d="M390 804 L409.500 808M390 807.500 L409.500 811.500M390 811 L409.500 815"/></g>
    <!-- motor -->
    <path d="M335.500 801 L362 797 L379 806 L354 818 z" fill="#62647c"/>
    <path d="M339 806 L360 802 L370 808 L352 814.500 z" fill="#4f5068"/>
    <path d="M364 778 L367.500 779 L366 812 L363 811 z" fill="#4d4e60"/>
    <path d="M337 783 Q337 777 343 777 L358 778.500 Q366 780 366 789 L365 797 Q364 801 358 800.500 L343 799 Q336 798 336 791 z" fill="url(#tealG)"/>
    <ellipse cx="340.500" cy="788.500" rx="4.600" ry="9.500" fill="#3eb3ac"/>
    <path d="M352 776 h4 v3 h-4 z" fill="#3eb3ac"/>
  </g>
</defs>
<use href="#vscreen"/>
<use href="#vscreen" transform="translate(-86,330.500)"/>
<!-- VSI sand maker -->
<defs>
  <linearGradient id="vsMetal" x1="0" y1="0" x2="1" y2="0"><stop offset="0" stop-color="#878d92"/><stop offset="0.3" stop-color="#c4c9cc"/><stop offset="0.55" stop-color="#aeb4b8"/><stop offset="1" stop-color="#7d8389"/></linearGradient>
  <linearGradient id="vsMetal2" x1="0" y1="0" x2="1" y2="0"><stop offset="0" stop-color="#7f858a"/><stop offset="0.35" stop-color="#b9bec2"/><stop offset="0.7" stop-color="#9ea4a9"/><stop offset="1" stop-color="#72787e"/></linearGradient>
  <linearGradient id="vsFrame" x1="0" y1="0" x2="0" y2="1"><stop offset="0" stop-color="#a5abaf"/><stop offset="1" stop-color="#858b90"/></linearGradient>
</defs>
<g id="vsi">
  <!-- far-left railing -->
  <path d="M18 942 L18 868 Q19 862 21 865 L22.500 942 z" fill="#b9bfc3"/>
  <g stroke="#b4babe" stroke-width="2" fill="none"><path d="M19.500 894.750 H44M19.500 906 H44M19.500 918 H44M19.500 930 H44M19.500 941 H44"/></g>
  <!-- left platform -->
  <path d="M24 955.500 L78 955.500 L78 970.500 L26 970.500 z" fill="#989ea2"/>
  <path d="M70 970 h8 v8 h-8 z" fill="#8a9095"/>
  <path d="M29 899 h14 v56.500 h-14 z" fill="#4fa78f"/>
  <path d="M31 899 h4.500 v56.500 h-4.500 z" fill="#86cdb9"/>
  <path d="M29 899 h14 v3 h-14 z M29 921 h14 v2.500 h-14 z" fill="#3a8d78"/>
  <path d="M42.750 893 L62 892.500 L66 900 L75 930 L70.500 945 L72 969 L42.750 969 z" fill="url(#vsFrame)"/>
  <path d="M19.500 892 L44 892 L44 895.500 L19.500 895.500 z" fill="#9aa0a4"/>
  <rect x="48.750" y="908" width="10.500" height="13" rx="2.500" fill="#3c907c"/>
  <rect x="48.750" y="933" width="10.500" height="12.750" rx="2.500" fill="#3c907c"/>
  <circle cx="50.300" cy="900" r="1.700" fill="#4a5056"/><circle cx="58.500" cy="900" r="1.700" fill="#4a5056"/>
  <path d="M11 937.500 L19.500 936 L19.500 952.500 L11 952.500 z" fill="#a3a9ad"/>
  <path d="M14 943.500 L30 943.500 L30 952.500 L14 952.500 z" fill="#56aa94"/>
  <!-- right platform + railing -->
  <g stroke="#b7bcc0" stroke-width="2.300" fill="none"><path d="M194.800 904 V890 Q195 885.500 200 884.500 L221 880.500 Q225.500 880 225.500 886 V946"/><path d="M219.200 882 V946" stroke-width="1.800"/><path d="M201 904 H226M201 918 H226M201 932.600 H226M201 946.400 H226" stroke-width="1.800"/></g>
  <path d="M201 888 L217 885.500 L217 903 L201 903 z" fill="#c6cace"/>
  <path d="M203.400 914 h17 v14.500 h-17 z" fill="#b9bdc1"/>
  <path d="M203.400 917 h17 M203.400 920.500 h17 M203.400 924 h17" stroke="#9fa4a9" stroke-width="0.800"/>
  <path d="M174 906 L180 903.400 L201 903.400 L201 953.750 L214 956 L214 970 L174 970 z" fill="url(#vsFrame)"/>
  <rect x="188.800" y="918" width="9" height="10.500" rx="2" fill="#3c907c"/>
  <rect x="188.800" y="939" width="9" height="11.500" rx="2" fill="#3c907c"/>
  <circle cx="188.800" cy="909" r="1.500" fill="#4a5056"/><circle cx="195.300" cy="909" r="1.500" fill="#4a5056"/>
  <path d="M205 946.400 h10.600 v9.600 h-10.600 z" fill="#5fb39c"/>
  <path d="M201 958 L216 960 L216 970 L201 970 z" fill="#5d6369"/>
  <path d="M174 970 L214 970 L214 974 L174 976 z" fill="#72787e"/>
  <!-- top cylinder -->
  <path d="M95 852 L147.750 852 L147.750 881 L95 881 z" fill="url(#vsMetal)"/>
  <path d="M95 858 h13 v22 h-13 z" fill="#7d8389" opacity="0.800"/>
  <path d="M99 862 h6 v8 h-6 z" fill="#4d5359"/>
  <ellipse cx="121.400" cy="851" rx="29.700" ry="4.600" fill="#a3a9ae"/>
  <ellipse cx="121.400" cy="851" rx="28.700" ry="4" fill="none" stroke="#e86a3c" stroke-width="2.200"/>
  <!-- collar -->
  <path d="M96.500 878 L160.700 880 L160.700 887 L96.500 887 z" fill="#6f757b"/>
  <path d="M96.500 878 L160.700 880 L160.700 882 L96.500 880 z" fill="#aab0b4"/>
  <!-- left motor housing -->
  <path d="M69.750 881 L69.750 870 Q70.500 860.500 84 859.500 L95 859.500 L99 864 L99 881 z" fill="#c9cdd0"/>
  <path d="M71.400 870 Q73 866 81 866 L81 876.500 L71.400 876.500 z" fill="#4d5359"/>
  <ellipse cx="91.700" cy="873.300" rx="2.600" ry="3.400" fill="#5b6167"/>
  <path d="M76 881 h16.500 v27 h-16.500 z" fill="#9aa0a5"/>
  <path d="M80 881 v27 M86 881 v27" stroke="#6a7076" stroke-width="1.600"/>
  <!-- main chamber -->
  <path d="M90.900 888 L173.700 890 L173.700 912 Q132 921 90.900 912 z" fill="url(#vsMetal2)"/>
  <path d="M67 886 L89 884.500 L130 885.500 L173.700 888.500 L173.700 893 L130 890.500 L89 889.200 L67 890.500 z" fill="#e86a3c"/>
  <path d="M107 897.700 L146 898 L151 900.200 L146 902.500 L107 902.300 z" fill="#e86a3c"/>
  <path d="M104 894.500 h50 v12 h-50 z" fill="none" stroke="#8a9095" stroke-width="0.900"/>
  <path d="M70 891 L90.900 890 L90.900 926 L72 928 z" fill="#858b91"/>
  <path d="M74 893 v32 M81 892 v32" stroke="#50565c" stroke-width="2"/>
  <path d="M90 916 L176 916 L180 930 L78 930 z" fill="#5b6268"/>
  <!-- ring under chamber -->
  <path d="M84 914 Q132 926 180 914 L180 920 Q132 932 84 920 z" fill="#6c7278"/>
  <g fill="#4d5359"><rect x="92" y="920" width="5" height="7"/><rect x="108" y="923" width="5" height="7"/><rect x="146" y="923" width="5" height="7"/><rect x="164" y="920" width="5" height="7"/></g>
  <!-- base frame -->
  <path d="M76 928 L180 928 L186 950 L70 950 z" fill="url(#vsFrame)"/>
  <path d="M70 950 L186 950 L186 954 L70 954 z" fill="#6f757b"/>
  <g fill="#4d5359"><circle cx="100" cy="941" r="1.500"/><circle cx="112" cy="943" r="1.500"/><circle cx="122" cy="943" r="1.500"/><circle cx="142" cy="943" r="1.500"/><circle cx="152" cy="943" r="1.500"/><circle cx="164" cy="941" r="1.500"/></g>
  <!-- hopper -->
  <path d="M98 954 L160 954 L144 977 L117 977 z" fill="#adb3b7"/>
  <path d="M98 954 L117 977 L117 981 L113 981 L96 958 z" fill="#8a9095"/>
  <path d="M117 977 L144 977 L144 981 L117 981 z" fill="#7d8389"/>
  <!-- legs -->
  <path d="M78 952 L98 952 L89 988 L92 992 L78.500 992 L80.500 988 z" fill="#80868c"/>
  <path d="M83 955 L92 955 L86 986 L83.500 986 z" fill="#5f656b"/>
  <path d="M165 951 L179 951 L182.500 986 L185 989 L170 989 L172.500 986 z" fill="#80868c"/>
  <path d="M170 954 L176 954 L179 984 L175 984 z" fill="#5f656b"/>
</g>
<!-- sand washer -->
<defs>
  <linearGradient id="swRing" x1="0" y1="1" x2="1" y2="0"><stop offset="0" stop-color="#7a7b8c"/><stop offset="0.6" stop-color="#8e8fa0"/><stop offset="1" stop-color="#a3a4b4"/></linearGradient>
  <linearGradient id="swFront" x1="0" y1="0" x2="0" y2="1"><stop offset="0" stop-color="#858698"/><stop offset="1" stop-color="#6d6e80"/></linearGradient>
  <clipPath id="swHole"><ellipse cx="556.5" cy="1214" rx="32" ry="42.5"/></clipPath>
  <clipPath id="swAbove"><path d="M400 1100 H640 V1226 L616 1226 L479 1258 L418 1233 L400 1233 Z"/></clipPath>
</defs>
<g id="washer">
  <!-- tank inside/back -->
  <path d="M418.3 1233.1 L465.0 1222.1 L602.5 1212.5 L616.3 1226.3 L478.8 1257.9 Z" fill="#4f5062"/>
  <g clip-path="url(#swAbove)">
  <!-- buckets -->
  <path d="M474.6 1157.5 L496.6 1145.1 L554.4 1143.2 L533.8 1158.9 Z" fill="#f2675c"/>
  <path d="M474.6 1157.5 L533.8 1158.9 L531.0 1164.4 L472.7 1163.6 Z" fill="#c8382f"/>
  <path d="M462.3 1175.4 L478.8 1158.9 L532.4 1157.5 L515.9 1179.0 Z" fill="#f4776b"/>
  <path d="M462.3 1175.4 L515.9 1179.0 L514.0 1185.0 L461.2 1182.3 Z" fill="#d13d34"/>
  <path d="M455.4 1196.0 L468.3 1173.5 L515.9 1178.4 L504.1 1202.1 Z" fill="#ef5046"/>
  <path d="M455.4 1196.0 L504.1 1202.1 L503.0 1207.6 L454.6 1202.1 Z" fill="#c8382f"/>
  <path d="M454.0 1216.6 L457.3 1193.8 L505.7 1201.0 L501.3 1225.7 Z" fill="#f46f63"/>
  <path d="M454.0 1216.6 L501.3 1225.7 L501.9 1230.7 L455.7 1223.0 Z" fill="#c03029"/>
  <path d="M457.3 1226.3 L455.7 1215.8 L503.0 1224.9 L504.9 1241.4 Z" fill="#e8463d"/>
  <!-- interior seen through hole -->
  <g clip-path="url(#swHole)">
    <rect x="520" y="1165" width="75" height="100" fill="#4b3f48"/>
    <path d="M535.1 1171.3 L586.0 1178.1 L588.8 1189.1 L539.3 1183.6 Z" fill="#d9473e"/>
    <path d="M558.5 1189.1 L590.1 1194.6 L590.1 1205.6 L564.0 1202.1 Z" fill="#c63a33"/>
    <path d="M568.1 1212.5 L590.1 1213.9 L588.8 1227.6 L570.9 1226.3 Z" fill="#d9473e"/>
    <path d="M525.5 1220.8 L553.0 1212.5 L555.8 1240.0 L528.3 1251.0 Z" fill="#a9352f"/>
    <g stroke="#8e8fa0" stroke-width="2.6" fill="none"><path d="M531.0 1182.3 L564.0 1218.0"/><path d="M586.0 1176.8 L564.0 1218.0"/><path d="M528.3 1212.5 L564.0 1218.0"/><path d="M575.0 1251.0 L564.0 1218.0"/></g>
  </g>
  <!-- ring -->
  <path d="M606.5 1212.0 L606.4 1215.5 L606.2 1219.0 L605.9 1222.4 L600.6 1224.5 L600.0 1227.6 L599.3 1230.6 L598.5 1233.6 L602.0 1239.0 L600.9 1242.2 L599.6 1245.2 L598.2 1248.2 L592.7 1247.4 L591.2 1249.9 L589.6 1252.3 L588.0 1254.6 L589.5 1261.4 L587.4 1263.7 L585.3 1265.8 L583.0 1267.8 L578.3 1264.1 L576.2 1265.6 L574.0 1267.0 L571.7 1268.2 L570.9 1275.2 L568.3 1276.2 L565.7 1277.0 L563.1 1277.7 L559.9 1271.9 L557.4 1272.1 L555.0 1272.2 L552.6 1272.1 L549.6 1278.1 L546.9 1277.7 L544.3 1277.0 L541.7 1276.2 L540.6 1269.2 L538.3 1268.2 L536.0 1267.0 L533.8 1265.6 L529.2 1269.6 L527.0 1267.8 L524.7 1265.8 L522.6 1263.7 L523.8 1256.7 L522.0 1254.6 L520.4 1252.3 L518.8 1249.9 L513.3 1251.1 L511.8 1248.2 L510.4 1245.2 L509.1 1242.2 L512.4 1236.5 L511.5 1233.6 L510.7 1230.6 L510.0 1227.6 L504.6 1225.8 L504.1 1222.4 L503.8 1219.0 L503.6 1215.5 L508.4 1212.0 L508.5 1208.9 L508.6 1205.7 L509.0 1202.6 L504.6 1198.2 L505.3 1194.8 L506.0 1191.5 L506.9 1188.2 L512.4 1187.5 L513.5 1184.7 L514.6 1181.9 L515.9 1179.2 L513.3 1172.9 L515.0 1170.2 L516.7 1167.5 L518.6 1165.0 L523.8 1167.3 L525.7 1165.2 L527.6 1163.3 L529.6 1161.5 L529.2 1154.4 L531.6 1152.7 L534.1 1151.2 L536.5 1149.9 L540.6 1154.8 L542.9 1153.9 L545.3 1153.1 L547.7 1152.6 L549.6 1145.9 L552.3 1145.6 L555.0 1145.5 L557.7 1145.6 L559.9 1152.1 L562.3 1152.6 L564.7 1153.1 L567.1 1153.9 L570.9 1148.8 L573.5 1149.9 L575.9 1151.2 L578.4 1152.7 L578.3 1159.9 L580.4 1161.5 L582.4 1163.3 L584.3 1165.2 L589.5 1162.6 L591.4 1165.0 L593.3 1167.5 L595.0 1170.2 L592.7 1176.6 L594.1 1179.2 L595.4 1181.9 L596.5 1184.7 L602.0 1185.0 L603.1 1188.2 L604.0 1191.5 L604.7 1194.8 L600.6 1199.5 L601.0 1202.6 L601.4 1205.7 L601.5 1208.9 Z M524.5 1214 A32 42.5 0 1 0 588.5 1214 A32 42.5 0 1 0 524.5 1214 Z" fill="url(#swRing)" fill-rule="evenodd"/>
  <path d="M524.5 1214 A32 42.5 0 1 0 588.5 1214 A32 42.5 0 1 0 524.5 1214 Z" fill="none" stroke="#6a6b7c" stroke-width="1.2"/>
  <!-- hub -->
  <ellipse cx="561" cy="1218" rx="14.5" ry="16.5" fill="#81828f"/>
  <ellipse cx="561" cy="1218" rx="14.5" ry="16.5" fill="none" stroke="#6b6c7a" stroke-width="2" stroke-dasharray="3 2"/>
  <ellipse cx="567" cy="1218" rx="8" ry="9" fill="#a7a8b6"/>
  <ellipse cx="567.5" cy="1218" rx="4.6" ry="5.4" fill="#6e6f7e"/>
  <ellipse cx="568" cy="1218" rx="2.4" ry="3" fill="#b9bac6"/>
  </g>
  <!-- tank faces -->
  <path d="M418.3 1233.1 L478.8 1257.9 L514.5 1314.3 L452.6 1274.4 Z" fill="#5c5d70"/>
  <path d="M478.8 1257.9 L616.3 1226.3 L608.0 1287.3 L514.5 1314.3 Z" fill="url(#swFront)"/>
  <path d="M418.3 1233.1 L478.8 1257.9 L616.3 1226.3" fill="none" stroke="#b9bac8" stroke-width="1.6"/>
  <path d="M616.3 1226.3 L619.6 1225.4 L611.3 1286.8 L608.0 1287.3 Z" fill="#9a9bac"/>
  <path d="M452.6 1274.4 L514.5 1314.3 L608.0 1287.3" fill="none" stroke="#4a4b5c" stroke-width="1.4"/>
</g>
<!-- gravel / sand circles -->
<defs>
  <filter id="fGravelFine" x="0" y="0" width="100%" height="100%" color-interpolation-filters="sRGB">
    <feTurbulence type="fractalNoise" baseFrequency="0.62" numOctaves="2" seed="11" result="n"/>
    <feColorMatrix in="n" type="matrix" values="1.000 0.200 0 0 0.100  1.000 0.150 0.050 0 0.102  1.000 0 0.200 0 0.088  0 0 0 0 1"/>
    <feComposite in2="SourceGraphic" operator="in"/>
  </filter>
  <filter id="fGravelCoarse" x="0" y="0" width="100%" height="100%" color-interpolation-filters="sRGB">
    <feTurbulence type="fractalNoise" baseFrequency="0.360" numOctaves="2" seed="5" result="n"/>
    <feColorMatrix in="n" type="matrix" values="1.600 0.300 0 0 -0.165  1.600 0.200 0.100 0 -0.200  1.600 0 0.350 0 -0.285  0 0 0 0 1"/>
    <feComposite in2="SourceGraphic" operator="in"/>
  </filter>
  <filter id="fSand" x="0" y="0" width="100%" height="100%" color-interpolation-filters="sRGB">
    <feTurbulence type="fractalNoise" baseFrequency="0.800" numOctaves="2" seed="23" result="n"/>
    <feColorMatrix in="n" type="matrix" values="1.000 0.200 0 0 0.188  1.000 0.170 0.050 0 0.160  1.000 0 0.230 0 0.115  0 0 0 0 1"/>
    <feComposite in2="SourceGraphic" operator="in"/>
  </filter>
</defs>
<circle cx="364" cy="910" r="36.500" fill="#b8b4aa" filter="url(#fGravelFine)"/>
<circle cx="487.500" cy="906.500" r="36.500" fill="#b8b4aa" filter="url(#fGravelCoarse)"/>
<circle cx="714.500" cy="1366.500" r="71" fill="#c9c5ba" filter="url(#fSand)"/>
<!-- arrows -->
<g fill="#45414b">
  <path transform="translate(192,322.5) rotate(33.11)" d="M-41.2 -2.3 L-8.5 -2.3 Q-10 -6.5 -13.2 -12.2 Q-6.2 -5.8 0.6 0 Q-6.2 5.8 -13.2 12.2 Q-10 6.5 -8.5 2.3 L-41.2 2.3 Z"/>
  <path transform="translate(414,464.5) rotate(32.74)" d="M-41.6 -2.3 L-8.5 -2.3 Q-10 -6.5 -13.2 -12.2 Q-6.2 -5.8 0.6 0 Q-6.2 5.8 -13.2 12.2 Q-10 6.5 -8.5 2.3 L-41.6 2.3 Z"/>
  <path transform="translate(613,574.5) rotate(32.74)" d="M-41.6 -2.3 L-8.5 -2.3 Q-10 -6.5 -13.2 -12.2 Q-6.2 -5.8 0.6 0 Q-6.2 5.8 -13.2 12.2 Q-10 6.5 -8.5 2.3 L-41.6 2.3 Z"/>
  <path transform="translate(537,657.5) rotate(-27.79)" d="M-41.8 -2.3 L-8.5 -2.3 Q-10 -6.5 -13.2 -12.2 Q-6.2 -5.8 0.6 0 Q-6.2 5.8 -13.2 12.2 Q-10 6.5 -8.5 2.3 L-41.8 2.3 Z"/>
  <path transform="translate(518.75,707.5) rotate(151.72)" d="M-41.2 -2.3 L-8.5 -2.3 Q-10 -6.5 -13.2 -12.2 Q-6.2 -5.8 0.6 0 Q-6.2 5.8 -13.2 12.2 Q-10 6.5 -8.5 2.3 L-41.2 2.3 Z"/>
  <path transform="translate(228.75,834.25) rotate(152.26)" d="M-40.3 -2.3 L-8.5 -2.3 Q-10 -6.5 -13.2 -12.2 Q-6.2 -5.8 0.6 0 Q-6.2 5.8 -13.2 12.2 Q-10 6.5 -8.5 2.3 L-40.3 2.3 Z"/>
  <path transform="translate(364.5,862) rotate(97.67)" d="M-26.2 -2.3 L-8.5 -2.3 Q-10 -6.5 -13.2 -12.2 Q-6.2 -5.8 0.6 0 Q-6.2 5.8 -13.2 12.2 Q-10 6.5 -8.5 2.3 L-26.2 2.3 Z"/>
  <path transform="translate(477,860) rotate(74.93)" d="M-26.9 -2.3 L-8.5 -2.3 Q-10 -6.5 -13.2 -12.2 Q-6.2 -5.8 0.6 0 Q-6.2 5.8 -13.2 12.2 Q-10 6.5 -8.5 2.3 L-26.9 2.3 Z"/>
  <path transform="translate(183.75,990) rotate(-143.97)" d="M-40.8 -2.3 L-8.5 -2.3 Q-10 -6.5 -13.2 -12.2 Q-6.2 -5.8 0.6 0 Q-6.2 5.8 -13.2 12.2 Q-10 6.5 -8.5 2.3 L-40.8 2.3 Z"/>
  <path transform="translate(174,1028.25) rotate(35.42)" d="M-41.4 -2.3 L-8.5 -2.3 Q-10 -6.5 -13.2 -12.2 Q-6.2 -5.8 0.6 0 Q-6.2 5.8 -13.2 12.2 Q-10 6.5 -8.5 2.3 L-41.4 2.3 Z"/>
  <path transform="translate(435,1189) rotate(35.62)" d="M-41.2 -2.3 L-8.5 -2.3 Q-10 -6.5 -13.2 -12.2 Q-6.2 -5.8 0.6 0 Q-6.2 5.8 -13.2 12.2 Q-10 6.5 -8.5 2.3 L-41.2 2.3 Z"/>
  <path transform="translate(639,1319) rotate(34.82)" d="M-42.0 -2.3 L-8.5 -2.3 Q-10 -6.5 -13.2 -12.2 Q-6.2 -5.8 0.6 0 Q-6.2 5.8 -13.2 12.2 Q-10 6.5 -8.5 2.3 L-42.0 2.3 Z"/>
</g>
<!-- labels -->
<g class="lbl">
  <text transform="translate(40.8,375.5) scale(1.06,1)" style="font-size:21px;letter-spacing:3.4px">原料石头</text>
  <text transform="translate(16,405.2) scale(1.06,1)" style="font-size:21px;letter-spacing:3.5px">以鹅卵石为例</text>
  <text transform="translate(231,492.5) scale(1.06,1)" style="font-size:23px;letter-spacing:2.2px">给料机</text>
  <text transform="translate(458.5,587.5) scale(1.06,1)" style="font-size:23px;letter-spacing:3.0px">鄂破</text>
  <text transform="translate(662,742.3) scale(1.06,1)" style="font-size:23px;letter-spacing:1.5px">圆锥破</text>
  <text transform="translate(276,847.5) scale(1.06,1)" style="font-size:23px;letter-spacing:2.0px">振动筛</text>
  <text transform="translate(47.8,1024.7) scale(1.06,1)" style="font-size:23px;letter-spacing:1.8px">制砂机</text>
  <text transform="translate(328.8,971.5) scale(1.06,1)" style="font-size:23px;letter-spacing:0.6px"><tspan style="font-weight:700;font-size:1.06em">12</tspan>石子</text>
  <text transform="translate(451.8,967.5) scale(1.06,1)" style="font-size:23px;letter-spacing:0.7px"><tspan style="font-weight:700;font-size:1.06em">13</tspan>石子</text>
  <text transform="translate(217.8,1185.5) scale(1.06,1)" style="font-size:23px;letter-spacing:1.6px">振动筛</text>
  <text transform="translate(476,1364.3) scale(1.06,1)" style="font-size:23px;letter-spacing:2.0px">洗砂机</text>
  <text transform="translate(662.3,1479.7) scale(1.06,1)" style="font-size:23px;letter-spacing:1.3px"><tspan style="font-weight:700;font-size:1.06em">05</tspan>成品沙</text>
</g>
</svg>
</body>
</html>
